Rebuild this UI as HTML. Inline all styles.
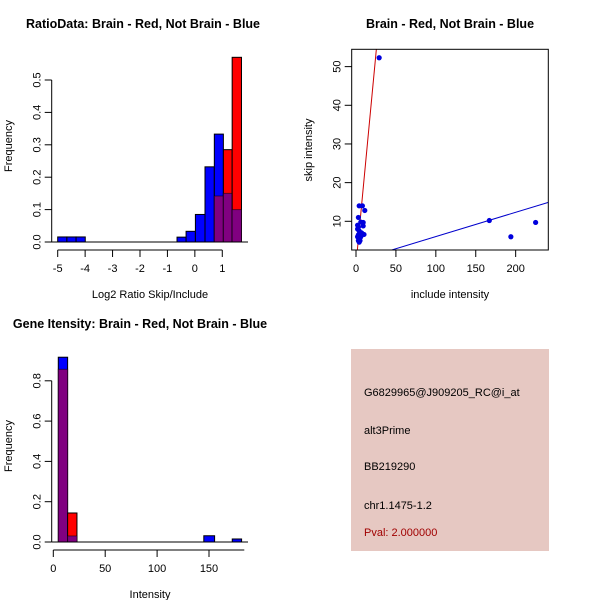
<!DOCTYPE html>
<html><head><meta charset="utf-8"><style>
body{margin:0;background:#fff;}
svg{display:block;font-family:"Liberation Sans",sans-serif;}
text{font-size:11px;fill:#000;}
.t{font-weight:bold;font-size:12.5px;}
</style></head><body>
<svg id="s" width="600" height="600">
<text class="t" x="143" y="28" text-anchor="middle">RatioData: Brain - Red, Not Brain - Blue</text>
<text class="t" x="450" y="28" text-anchor="middle">Brain - Red, Not Brain - Blue</text>
<text class="t" x="140" y="328" text-anchor="middle">Gene Itensity: Brain - Red, Not Brain - Blue</text>
<text x="150" y="298" text-anchor="middle">Log2 Ratio Skip/Include</text>
<text transform="translate(12,146) rotate(-90)" text-anchor="middle">Frequency</text>
<text x="450" y="298" text-anchor="middle">include intensity</text>
<text transform="translate(312,150) rotate(-90)" text-anchor="middle">skip intensity</text>
<text x="150" y="598" text-anchor="middle">Intensity</text>
<text transform="translate(12,446) rotate(-90)" text-anchor="middle">Frequency</text>
<rect x="351" y="349" width="198" height="202" fill="#e6c8c2"/>
<text x="364" y="396">G6829965@J909205_RC@i_at</text>
<text x="364" y="434">alt3Prime</text>
<text x="364" y="470">BB219290</text>
<text x="364" y="509">chr1.1475-1.2</text>
<text x="364" y="536" fill="#a00000" style="fill:#a00000">Pval: 2.000000</text>
</svg>
<script>
// Ratio histogram data
const ratioBinEdges=[-5,-4.665,-4.33,-3.995,-0.65,-0.32,0.02,0.37,0.71,1.04,1.36,1.70];
const ratioBlue=[0.0156,0.0156,0.0156,0,0.015,0.033,0.085,0.232,0.333,0.15,0.10];
const ratioRed=[0,0,0,0,0,0,0,0,0.142,0.285,0.57];
const ratioXTicks=[-5,-4,-3,-2,-1,0,1];
const ratioYTicks=[0,0.1,0.2,0.3,0.4,0.5];
// Scatter data
const incl=[29,167,194,225,4,8,11,3,2,3,6,9,9,2,4,7,10,3,2,4,3,5,4,6];
const skip=[52.3,10.2,6,9.7,14,14,12.8,11,9,8.5,9.8,9.7,8.8,8,7.5,7,6.6,6.5,6,5.5,5,5,4.6,6];
const redFit=[-1.1,2.18];
const blueFit=[-0.23,0.0628];
const scXTicks=[0,50,100,150,200];
const scYTicks=[10,20,30,40,50];
// Intensity histogram data
const intBinStart=[4.8,13.8,145,172.4];
const intBinEnd=[13.8,22.8,155.4,181.4];
const intBlue=[0.917,0.03,0.031,0.015];
const intRed=[0.857,0.144,0,0];
const intXTicks=[0,50,100,150];
const intYTicks=[0,0.2,0.4,0.6,0.8];

const S=document.getElementById('s');
const NS='http://www.w3.org/2000/svg';
function mk(tag,a){const e=document.createElementNS(NS,tag);for(const k in a)e.setAttribute(k,a[k]);S.appendChild(e);return e;}
const PURPLE='#800080';

function drawHist(xs,ys,starts,ends,blue,red,pfx){
  for(let i=0;i<blue.length;i++){
    const b=blue[i],r=red[i];if(b<=0&&r<=0)continue;
    const x0=xs(starts[i]),x1=xs(ends[i]);
    const hi=Math.max(b,r),lo=Math.min(b,r);
    const top=mk('rect',{x:x0,y:ys(hi),width:x1-x0,height:ys(0)-ys(hi),fill:b>=r?'#0000ff':'#ff0000',stroke:'#000','stroke-width':1});
    
    
    if(lo>0){const p=mk('rect',{x:x0,y:ys(lo),width:x1-x0,height:ys(0)-ys(lo),fill:PURPLE,stroke:'#000','stroke-width':1,'stroke-opacity':0.5});
      
      }
  }
}
function axisY(x,ys,ticks,fmt,y0,y1){
  mk('line',{x1:x,x2:x,y1:ys(y0),y2:ys(y1),stroke:'#000'});
  ticks.forEach(t=>{mk('line',{x1:x,x2:x-7,y1:ys(t),y2:ys(t),stroke:'#000'});
    const tx=mk('text',{transform:`translate(${x-11},${ys(t)}) rotate(-90)`,'text-anchor':'middle'});tx.textContent=fmt(t);
    
    });
}
function axisX(y,xs,ticks,x0,x1){
  mk('line',{x1:xs(x0),x2:xs(x1),y1:y,y2:y,stroke:'#000'});
  ticks.forEach(t=>{mk('line',{x1:xs(t),x2:xs(t),y1:y,y2:y+7,stroke:'#000'});
    const tx=mk('text',{x:xs(t),y:y+22,'text-anchor':'middle'});tx.textContent=t;
    
    });
}
// Plot 1
{const xs=v=>57.7+(v+5)*27.43, ys=v=>242-v*324;
 drawHist(xs,ys,ratioBinEdges.slice(0,-1),ratioBinEdges.slice(1),ratioBlue,ratioRed,'ratio');
 mk('line',{x1:48,x2:248,y1:242,y2:242,stroke:'#000'});
 axisY(51.7,ys,ratioYTicks,t=>t.toFixed(1),0,0.5);
 axisX(250,xs,ratioXTicks,-5,1);}
// Plot 2
{const xs=v=>356+v*0.7983, ys=v=>221.3-(v-10)*3.867;
 const L=351.7,R=548.3,T=49.3,B=250;
 mk('defs',{}).innerHTML='<clipPath id="c"><rect x="351.7" y="49.3" width="196.6" height="200.7"/></clipPath>';
 const xa=-6,xb=241;
 const rl=mk('line',{x1:xs(xa),y1:ys(redFit[0]+redFit[1]*xa),x2:xs(xb),y2:ys(redFit[0]+redFit[1]*xb),stroke:'#cc0000','clip-path':'url(#c)'});
 
 
 const bl=mk('line',{x1:xs(xa),y1:ys(blueFit[0]+blueFit[1]*xa),x2:xs(xb),y2:ys(blueFit[0]+blueFit[1]*xb),stroke:'#0000cc','clip-path':'url(#c)'});
 
 
 incl.forEach((v,i)=>{const c=mk('circle',{cx:xs(v),cy:ys(skip[i]),r:2.6,fill:'#0000dd'});
   
   });
 const fr=mk('rect',{x:L,y:T,width:R-L,height:B-T,fill:'none',stroke:'#000'});
 
 
 scYTicks.forEach(t=>{mk('line',{x1:L,x2:L-7,y1:ys(t),y2:ys(t),stroke:'#000'});
   const tx=mk('text',{transform:`translate(${L-11},${ys(t)}) rotate(-90)`,'text-anchor':'middle'});tx.textContent=t;
   
   });
 scXTicks.forEach(t=>{mk('line',{x1:xs(t),x2:xs(t),y1:B,y2:B+7,stroke:'#000'});
   const tx=mk('text',{x:xs(t),y:B+22,'text-anchor':'middle'});tx.textContent=t;
   
   });}
// Plot 3
{const xs=v=>53.3+v*1.038, ys=v=>542-v*201.5;
 drawHist(xs,ys,intBinStart,intBinEnd,intBlue,intRed,'intensity');
 mk('line',{x1:51.7,x2:248,y1:542,y2:542,stroke:'#000'});
 axisY(51.7,ys,intYTicks,t=>t.toFixed(1),0,0.8);
 axisX(550,xs,intXTicks,0,184);}
</script>
</body></html>
